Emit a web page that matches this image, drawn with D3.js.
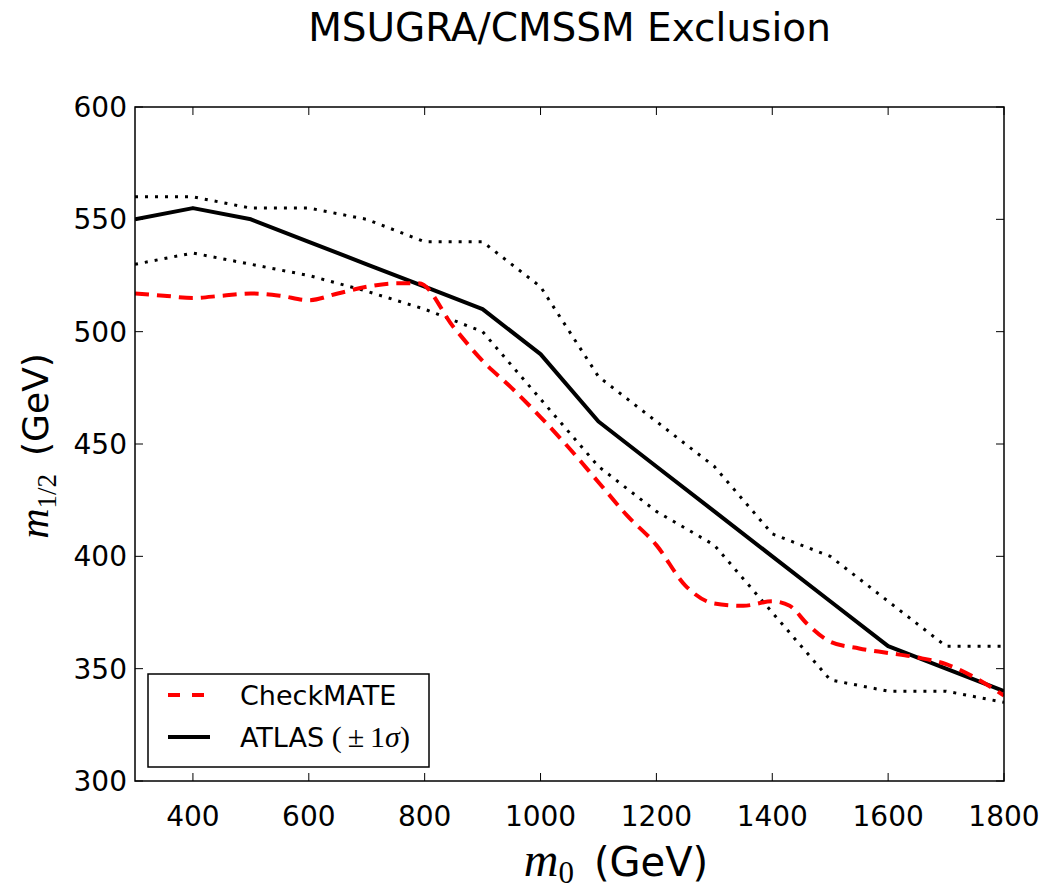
<!DOCTYPE html>
<html>
<head>
<meta charset="utf-8">
<script src="https://cdn.jsdelivr.net/npm/d3@7"></script>
<style>
  body { margin: 0; background: #fff; }
  text { font-family: "DejaVu Sans", sans-serif; }
</style>
</head>
<body>
<div class="center"></div>
<script>
// chart data
var checkmateM0 = [300, 350, 400, 450, 500, 550, 600, 650, 700, 750, 790, 850, 900, 950, 1000, 1050, 1100, 1150, 1200, 1250, 1300, 1350, 1400, 1430, 1460, 1500, 1550, 1600, 1650, 1700, 1750, 1800];
var checkmateM12 = [517, 516, 515, 516, 517, 516, 514, 517, 520, 521.5, 521.5, 502, 487, 475, 462, 448, 433, 418, 405, 387, 379, 378, 380, 378, 370, 362, 359, 357, 355, 352, 346, 338];

var atlasM0 = [300, 400, 500, 600, 700, 800, 900, 1000, 1100, 1200, 1300, 1400, 1500, 1600, 1700, 1800];
var atlasM12 = [550, 555, 550, 540, 530, 520, 510, 490, 460, 440, 420, 400, 380, 360, 350, 340];
var atlasUp = [560, 560, 555, 555, 550, 540, 540, 520, 480, 460, 440, 410, 400, 380, 360, 360];
var atlasDown = [530, 535, 530, 525, 518, 510, 500, 470, 440, 420, 405, 375, 345, 340, 340, 335];

var xTicks = [400, 600, 800, 1000, 1200, 1400, 1600, 1800];
var yTicks = [300, 350, 400, 450, 500, 550, 600];

var W = 1052, H = 894;
var plot = {left: 135, right: 1004, top: 107, bottom: 781};

var x = d3.scaleLinear().domain([300, 1800]).range([plot.left, plot.right]);
var y = d3.scaleLinear().domain([300, 600]).range([plot.bottom, plot.top]);

var svg = d3.select(".center").append("svg")
    .attr("width", W)
    .attr("height", H);

svg.append("clipPath").attr("id", "clip")
  .append("rect")
    .attr("x", plot.left).attr("y", plot.top)
    .attr("width", plot.right - plot.left)
    .attr("height", plot.bottom - plot.top);

var line = d3.line()
    .x(function(d) { return x(d[0]); })
    .y(function(d) { return y(d[1]); });

var g = svg.append("g").attr("clip-path", "url(#clip)");

// ATLAS band edges (dotted)
[atlasUp, atlasDown].forEach(function(arr) {
  g.append("path")
    .datum(atlasM0.map(function(m, i) { return [m, arr[i]]; }))
    .attr("d", line)
    .attr("fill", "none")
    .attr("stroke", "#000")
    .attr("stroke-width", 3)
    .attr("stroke-dasharray", "3,7");
});

// ATLAS central
g.append("path")
  .datum(atlasM0.map(function(m, i) { return [m, atlasM12[i]]; }))
  .attr("d", line)
  .attr("fill", "none")
  .attr("stroke", "#000")
  .attr("stroke-width", 4)
  .attr("stroke-linejoin", "round");

// CheckMATE (smooth dashed red)
g.append("path")
  .datum(checkmateM0.map(function(m, i) { return [m, checkmateM12[i]]; }))
  .attr("d", line.curve(d3.curveMonotoneX))
  .attr("fill", "none")
  .attr("stroke", "#ff0000")
  .attr("stroke-width", 4)
  .attr("stroke-dasharray", "14,8");

// axes, ticks inside on all four sides
var tickLen = 8;
var ax = svg.append("g");
xTicks.forEach(function(t) {
  ax.append("line").attr("x1", x(t)).attr("x2", x(t))
    .attr("y1", plot.bottom).attr("y2", plot.bottom - tickLen)
    .attr("stroke", "#000").attr("stroke-width", 1);
  ax.append("line").attr("x1", x(t)).attr("x2", x(t))
    .attr("y1", plot.top).attr("y2", plot.top + tickLen)
    .attr("stroke", "#000").attr("stroke-width", 1);
  ax.append("text")
    .attr("x", x(t)).attr("y", plot.bottom + 45)
    .attr("text-anchor", "middle")
    .style("font-size", "28px")
    .text(t);
});
yTicks.forEach(function(t) {
  ax.append("line").attr("x1", plot.left).attr("x2", plot.left + tickLen)
    .attr("y1", y(t)).attr("y2", y(t))
    .attr("stroke", "#000").attr("stroke-width", 1);
  ax.append("line").attr("x1", plot.right).attr("x2", plot.right - tickLen)
    .attr("y1", y(t)).attr("y2", y(t))
    .attr("stroke", "#000").attr("stroke-width", 1);
  ax.append("text")
    .attr("x", plot.left - 8).attr("y", y(t))
    .attr("dy", "0.36em")
    .attr("text-anchor", "end")
    .style("font-size", "28px")
    .text(t);
});
ax.append("rect")
  .attr("x", plot.left).attr("y", plot.top)
  .attr("width", plot.right - plot.left)
  .attr("height", plot.bottom - plot.top)
  .attr("fill", "none")
  .attr("stroke", "#000")
  .attr("stroke-width", 1.5);

// title
svg.append("text")
  .attr("x", (plot.left + plot.right) / 2)
  .attr("y", 41)
  .attr("text-anchor", "middle")
  .style("font-size", "39px")
  .text("MSUGRA/CMSSM Exclusion");

// x axis label
var xl = svg.append("text")
  .attr("x", 616)
  .attr("y", 876)
  .attr("text-anchor", "middle")
  .style("font-size", "40px");
xl.append("tspan").style("font-family", "'Liberation Serif', serif").style("font-style", "italic").style("font-size", "48px").text("m");
xl.append("tspan").attr("dy", 7).style("font-family", "'Liberation Serif', serif").style("font-size", "31px").text("0");
xl.append("tspan").attr("dy", -7).text("\u2002(GeV)");

// y axis label
var yl = svg.append("text")
  .attr("transform", "translate(48," + 446 + ") rotate(-90)")
  .attr("text-anchor", "middle")
  .style("font-size", "36px");
yl.append("tspan").style("font-family", "'Liberation Serif', serif").style("font-style", "italic").style("font-size", "42px").text("m");
yl.append("tspan").attr("dy", 8).style("font-family", "'Liberation Serif', serif").style("font-size", "27px").text("1/2");
yl.append("tspan").attr("dy", -8).text("\u2002(GeV)");

// legend
var legend = svg.append("g");
legend.append("rect")
  .attr("x", 148).attr("y", 674)
  .attr("width", 281).attr("height", 93)
  .attr("fill", "#fff")
  .attr("stroke", "#000")
  .attr("stroke-width", 1.5);

var keys = [
  {label: "CheckMATE", color: "#ff0000", dash: "12,12", width: 4},
  {label: "ATLAS", color: "#000", dash: null, width: 4, math: true}
];
keys.forEach(function(k, i) {
  var ly = 695 + i * 42;
  legend.append("line")
    .attr("x1", 168).attr("x2", 210)
    .attr("y1", ly).attr("y2", ly)
    .attr("stroke", k.color)
    .attr("stroke-width", k.width)
    .attr("stroke-dasharray", k.dash);
  var t = legend.append("text")
    .attr("x", 240).attr("y", ly + 10)
    .style("font-size", "27px")
    .text(k.label);
  if (k.math) {
    var m = t.append("tspan")
      .style("font-family", "'Liberation Serif', serif")
      .style("font-size", "30px");
    m.append("tspan").text(" (\u2009\u00b1\u20091");
    m.append("tspan").style("font-style", "italic").text("\u03c3");
    m.append("tspan").text(")");
  }
});
</script>
</body>
</html>
